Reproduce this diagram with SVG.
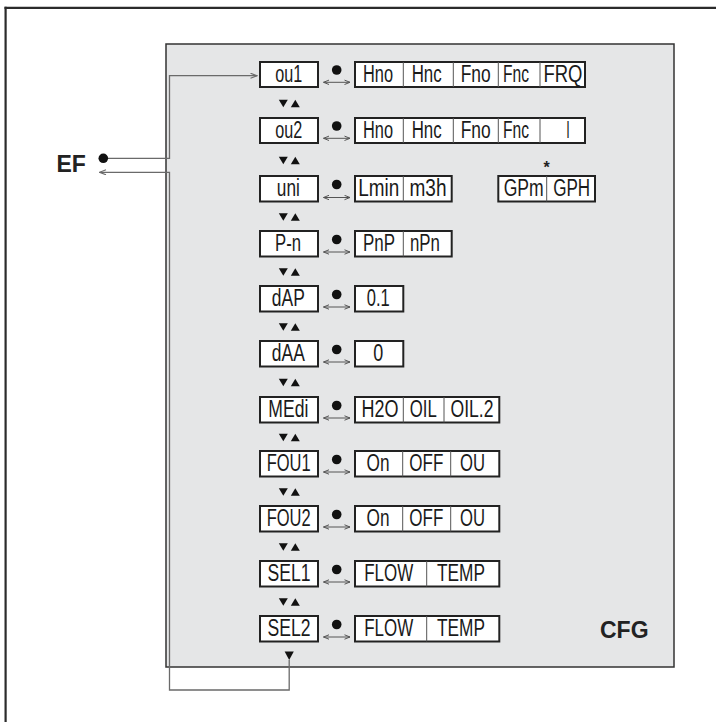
<svg xmlns="http://www.w3.org/2000/svg" xmlns:xlink="http://www.w3.org/1999/xlink" width="716" height="722" viewBox="0 0 716 722">
<style>
.frame{fill:none;stroke:#2b2b2b;stroke-width:2.2}
.panel{fill:#e5e6e7;stroke:#333;stroke-width:1.5}
.box{fill:#fff;stroke:#222;stroke-width:2}
.div{stroke:#555;stroke-width:1}
.lbl{font-family:"Liberation Sans",Arial,sans-serif;font-size:23px;fill:#1a1a1a;text-anchor:middle}
.big{font-family:"Liberation Sans",Arial,sans-serif;font-size:23px;font-weight:bold;fill:#222}
.ast{font-family:"Liberation Sans",Arial,sans-serif;font-size:16px;font-weight:bold;fill:#222;text-anchor:middle}
.dot{fill:#111}
.con{fill:none;stroke:#6a6a6a;stroke-width:1.3}
.dbl{fill:none;stroke:#555;stroke-width:1;marker-start:url(#ch);marker-end:url(#ch)}
.tri{fill:#111}
</style>
<defs>
<marker id="ah" markerUnits="userSpaceOnUse" markerWidth="8" markerHeight="6" refX="7" refY="3" orient="auto"><path d="M0.5,0.5 L7,3 L0.5,5.5" fill="none" stroke="#6a6a6a" stroke-width="1.1"/></marker>
<marker id="ch" markerUnits="userSpaceOnUse" markerWidth="7" markerHeight="6" refX="6" refY="3" orient="auto-start-reverse"><path d="M0.5,0.8 L6,3 L0.5,5.2" fill="none" stroke="#555" stroke-width="1"/></marker>
<g id="tri"><polygon points="278.8,-3.8 287.8,-3.8 283.3,3.8"/><polygon points="290.8,3.8 299.8,3.8 295.3,-3.8"/></g>
</defs>

<g id="frame">
<line class="frame" x1="4.5" y1="7.8" x2="716" y2="7.8"/>
<line class="frame" x1="5.6" y1="6.7" x2="5.6" y2="722"/>
</g>
<rect id="panel" class="panel" x="166" y="44" width="508" height="623"/>

<g id="connectors">
<path class="con" d="M108,158.3 H169.5 V75.7 H257" marker-end="url(#ah)"/>
<path class="con" d="M289.2,660 V690 H169.5 V172.3 H99.5" marker-end="url(#ah)"/>
<g class="tri">
<use xlink:href="#tri" transform="translate(0,103.5)"/>
<use xlink:href="#tri" transform="translate(0,160.5)"/>
<use xlink:href="#tri" transform="translate(0,217)"/>
<use xlink:href="#tri" transform="translate(0,272)"/>
<use xlink:href="#tri" transform="translate(0,327)"/>
<use xlink:href="#tri" transform="translate(0,382.5)"/>
<use xlink:href="#tri" transform="translate(0,437.5)"/>
<use xlink:href="#tri" transform="translate(0,492)"/>
<use xlink:href="#tri" transform="translate(0,547)"/>
<use xlink:href="#tri" transform="translate(0,602)"/>
<polygon points="284.6,651.5 293.8,651.5 289.2,660"/>
</g>
</g>

<g id="EF">
<circle class="dot" cx="103.3" cy="158.3" r="4.8"/>
<text class="big" x="56.5" y="171.7">EF</text>
</g>
<g id="CFG"><text class="big" x="600" y="638.3">CFG</text></g>

<g id="row-ou1">
<rect class="box" x="260" y="62" width="58" height="25"/>
<text class="lbl" x="288.7" y="82" textLength="27" lengthAdjust="spacingAndGlyphs">ou1</text>
<circle class="dot" cx="336.7" cy="70" r="4.8"/>
<line class="dbl" x1="323.5" y1="82.3" x2="350" y2="82.3"/>
<rect class="box" x="355" y="62" width="230" height="25"/>
<line class="div" x1="403.3" y1="62" x2="403.3" y2="87"/>
<line class="div" x1="453.3" y1="62" x2="453.3" y2="87"/>
<line class="div" x1="498.3" y1="62" x2="498.3" y2="87"/>
<line class="div" x1="540" y1="62" x2="540" y2="87"/>
<text class="lbl" x="378" y="82" textLength="30" lengthAdjust="spacingAndGlyphs">Hno</text>
<text class="lbl" x="426.7" y="82" textLength="30" lengthAdjust="spacingAndGlyphs">Hnc</text>
<text class="lbl" x="475.7" y="82" textLength="30" lengthAdjust="spacingAndGlyphs">Fno</text>
<text class="lbl" x="516" y="82" textLength="26" lengthAdjust="spacingAndGlyphs">Fnc</text>
<text class="lbl" x="563" y="82" textLength="39" lengthAdjust="spacingAndGlyphs">FRQ</text>
</g>

<g id="row-ou2">
<rect class="box" x="260" y="118" width="58" height="25"/>
<text class="lbl" x="288.7" y="138" textLength="27" lengthAdjust="spacingAndGlyphs">ou2</text>
<circle class="dot" cx="336.7" cy="126" r="4.8"/>
<line class="dbl" x1="323.5" y1="138.3" x2="350" y2="138.3"/>
<rect class="box" x="355" y="118" width="230" height="25"/>
<line class="div" x1="403.3" y1="118" x2="403.3" y2="143"/>
<line class="div" x1="453.3" y1="118" x2="453.3" y2="143"/>
<line class="div" x1="498.3" y1="118" x2="498.3" y2="143"/>
<line class="div" x1="540" y1="118" x2="540" y2="143"/>
<text class="lbl" x="378" y="138" textLength="30" lengthAdjust="spacingAndGlyphs">Hno</text>
<text class="lbl" x="426.7" y="138" textLength="30" lengthAdjust="spacingAndGlyphs">Hnc</text>
<text class="lbl" x="475.7" y="138" textLength="30" lengthAdjust="spacingAndGlyphs">Fno</text>
<text class="lbl" x="516" y="138" textLength="26" lengthAdjust="spacingAndGlyphs">Fnc</text>
<text class="lbl" x="568" y="138" textLength="3.5" lengthAdjust="spacingAndGlyphs">I</text>
</g>

<g id="row-uni">
<rect class="box" x="260" y="176" width="58" height="25.5"/>
<text class="lbl" x="288.3" y="196" textLength="23" lengthAdjust="spacingAndGlyphs">uni</text>
<circle class="dot" cx="336.7" cy="184.5" r="4.8"/>
<line class="dbl" x1="323.5" y1="197.5" x2="350" y2="197.5"/>
<rect class="box" x="355" y="176" width="96.7" height="25.5"/>
<line class="div" x1="403.3" y1="176" x2="403.3" y2="201.5"/>
<text class="lbl" x="378.8" y="196" textLength="41" lengthAdjust="spacingAndGlyphs">Lmin</text>
<text class="lbl" x="428" y="196" textLength="37" lengthAdjust="spacingAndGlyphs">m3h</text>
<rect class="box" x="498.3" y="176" width="96.7" height="25.5"/>
<line class="div" x1="546.7" y1="176" x2="546.7" y2="201.5"/>
<text class="lbl" x="523.7" y="196" textLength="40" lengthAdjust="spacingAndGlyphs">GPm</text>
<text class="lbl" x="571.7" y="196" textLength="37" lengthAdjust="spacingAndGlyphs">GPH</text>
<text class="ast" x="546.5" y="173">*</text>
</g>

<g id="row-Pn">
<rect class="box" x="260" y="231" width="58" height="25.5"/>
<text class="lbl" x="288" y="251" textLength="26" lengthAdjust="spacingAndGlyphs">P-n</text>
<circle class="dot" cx="336.7" cy="239.5" r="4.8"/>
<line class="dbl" x1="323.5" y1="252" x2="350" y2="252"/>
<rect class="box" x="355" y="231" width="96.7" height="25.5"/>
<line class="div" x1="403.3" y1="231" x2="403.3" y2="256.5"/>
<text class="lbl" x="379" y="251" textLength="32" lengthAdjust="spacingAndGlyphs">PnP</text>
<text class="lbl" x="425" y="251" textLength="30" lengthAdjust="spacingAndGlyphs">nPn</text>
</g>

<g id="row-dAP">
<rect class="box" x="260" y="286" width="58" height="25.5"/>
<text class="lbl" x="288.3" y="306" textLength="33" lengthAdjust="spacingAndGlyphs">dAP</text>
<circle class="dot" cx="336.7" cy="294.5" r="4.8"/>
<line class="dbl" x1="323.5" y1="307" x2="350" y2="307"/>
<rect class="box" x="355" y="286" width="48.3" height="25.5"/>
<text class="lbl" x="378.3" y="306" textLength="23" lengthAdjust="spacingAndGlyphs">0.1</text>
</g>

<g id="row-dAA">
<rect class="box" x="260" y="341" width="58" height="25.5"/>
<text class="lbl" x="288.3" y="361" textLength="33" lengthAdjust="spacingAndGlyphs">dAA</text>
<circle class="dot" cx="336.7" cy="349.5" r="4.8"/>
<line class="dbl" x1="323.5" y1="362" x2="350" y2="362"/>
<rect class="box" x="355" y="341" width="48.3" height="25.5"/>
<text class="lbl" x="378.3" y="361" textLength="10" lengthAdjust="spacingAndGlyphs">0</text>
</g>

<g id="row-MEdi">
<rect class="box" x="260" y="397" width="58" height="25.5"/>
<text class="lbl" x="288.3" y="417" textLength="40" lengthAdjust="spacingAndGlyphs">MEdi</text>
<circle class="dot" cx="336.7" cy="405.5" r="4.8"/>
<line class="dbl" x1="323.5" y1="418" x2="350" y2="418"/>
<rect class="box" x="355" y="397" width="144.3" height="25.5"/>
<line class="div" x1="403.3" y1="397" x2="403.3" y2="422.5"/>
<line class="div" x1="444" y1="397" x2="444" y2="422.5"/>
<text class="lbl" x="380" y="417" textLength="37" lengthAdjust="spacingAndGlyphs">H2O</text>
<text class="lbl" x="423.3" y="417" textLength="27" lengthAdjust="spacingAndGlyphs">OIL</text>
<text class="lbl" x="472" y="417" textLength="43" lengthAdjust="spacingAndGlyphs">OIL.2</text>
</g>

<g id="row-FOU1">
<rect class="box" x="260" y="451" width="58" height="25.5"/>
<text class="lbl" x="288.7" y="471" textLength="44" lengthAdjust="spacingAndGlyphs">FOU1</text>
<circle class="dot" cx="336.7" cy="459.5" r="4.8"/>
<line class="dbl" x1="323.5" y1="472" x2="350" y2="472"/>
<rect class="box" x="355" y="451" width="144.3" height="25.5"/>
<line class="div" x1="402.7" y1="451" x2="402.7" y2="476.5"/>
<line class="div" x1="450.7" y1="451" x2="450.7" y2="476.5"/>
<text class="lbl" x="378" y="471" textLength="23" lengthAdjust="spacingAndGlyphs">On</text>
<text class="lbl" x="426.3" y="471" textLength="34" lengthAdjust="spacingAndGlyphs">OFF</text>
<text class="lbl" x="472.5" y="471" textLength="25" lengthAdjust="spacingAndGlyphs">OU</text>
</g>

<g id="row-FOU2">
<rect class="box" x="260" y="506" width="58" height="25.5"/>
<text class="lbl" x="288.7" y="526" textLength="44" lengthAdjust="spacingAndGlyphs">FOU2</text>
<circle class="dot" cx="336.7" cy="514.5" r="4.8"/>
<line class="dbl" x1="323.5" y1="527" x2="350" y2="527"/>
<rect class="box" x="355" y="506" width="144.3" height="25.5"/>
<line class="div" x1="402.7" y1="506" x2="402.7" y2="531.5"/>
<line class="div" x1="450.7" y1="506" x2="450.7" y2="531.5"/>
<text class="lbl" x="378" y="526" textLength="23" lengthAdjust="spacingAndGlyphs">On</text>
<text class="lbl" x="426.3" y="526" textLength="34" lengthAdjust="spacingAndGlyphs">OFF</text>
<text class="lbl" x="472.5" y="526" textLength="25" lengthAdjust="spacingAndGlyphs">OU</text>
</g>

<g id="row-SEL1">
<rect class="box" x="260" y="561" width="58" height="25.5"/>
<text class="lbl" x="289" y="581" textLength="43" lengthAdjust="spacingAndGlyphs">SEL1</text>
<circle class="dot" cx="336.7" cy="569.5" r="4.8"/>
<line class="dbl" x1="323.5" y1="582" x2="350" y2="582"/>
<rect class="box" x="355" y="561" width="144.3" height="25.5"/>
<line class="div" x1="426.7" y1="561" x2="426.7" y2="586.5"/>
<text class="lbl" x="388.7" y="581" textLength="49" lengthAdjust="spacingAndGlyphs">FLOW</text>
<text class="lbl" x="461" y="581" textLength="48" lengthAdjust="spacingAndGlyphs">TEMP</text>
</g>

<g id="row-SEL2">
<rect class="box" x="260" y="616" width="58" height="25.5"/>
<text class="lbl" x="289" y="636" textLength="43" lengthAdjust="spacingAndGlyphs">SEL2</text>
<circle class="dot" cx="336.7" cy="624.5" r="4.8"/>
<line class="dbl" x1="323.5" y1="637" x2="350" y2="637"/>
<rect class="box" x="355" y="616" width="144.3" height="25.5"/>
<line class="div" x1="426.7" y1="616" x2="426.7" y2="641.5"/>
<text class="lbl" x="388.7" y="636" textLength="49" lengthAdjust="spacingAndGlyphs">FLOW</text>
<text class="lbl" x="461" y="636" textLength="48" lengthAdjust="spacingAndGlyphs">TEMP</text>
</g>
</svg>
